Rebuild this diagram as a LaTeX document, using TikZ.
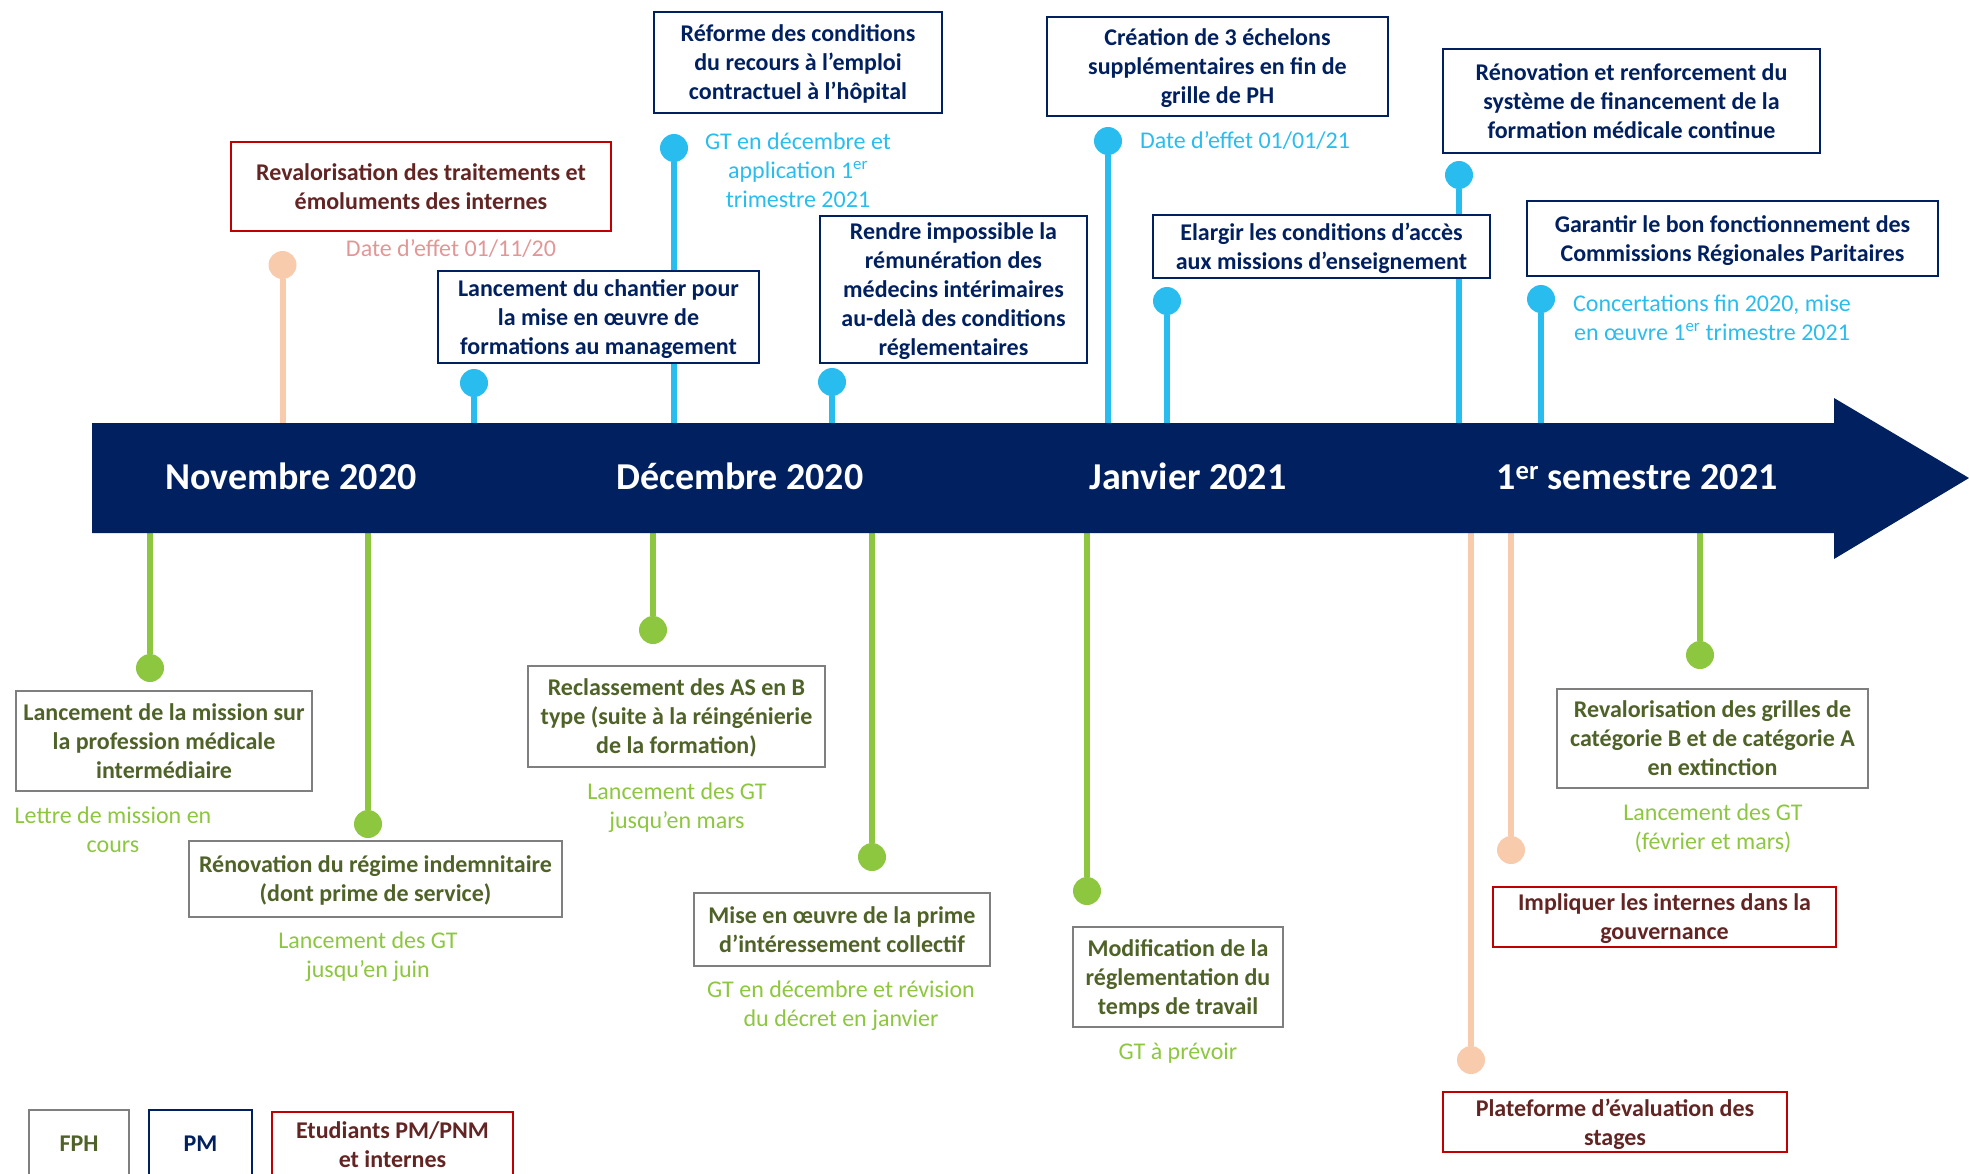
\documentclass[tikz,border=0pt]{standalone}
\usepackage{fontspec}
\setmainfont{Carlito}
\usetikzlibrary{backgrounds}
\definecolor{navy}{RGB}{0,32,96}
\definecolor{lblue}{RGB}{41,189,239}
\definecolor{lgreen}{RGB}{141,198,63}
\definecolor{peach}{RGB}{248,203,173}
\definecolor{pinktext}{RGB}{226,150,150}
\definecolor{fphtext}{RGB}{79,98,40}
\definecolor{boxgray}{RGB}{127,127,127}
\definecolor{redline}{RGB}{192,0,0}
\definecolor{maroon}{RGB}{99,37,35}
\begin{document}
\begin{tikzpicture}[x=1pt,y=-1pt,
  boxbase/.style={draw, fill=white, line width=2.5pt, align=center, inner sep=2pt,
    text depth=0pt, font=\fontsize{24}{29}\selectfont\bfseries},
  pmbox/.style={boxbase, draw=navy, text=navy},
  fphbox/.style={boxbase, draw=boxgray, text=fphtext},
  stubox/.style={boxbase, draw=redline, text=maroon},
  note/.style={align=center, inner sep=0pt, font=\fontsize{24}{29}\selectfont},
  dot/.style={circle, minimum size=28pt, inner sep=0pt},
  stem/.style={line width=6pt},
  title/.style={text=white, anchor=base, inner sep=0pt, font=\fontsize{38}{44}\selectfont\bfseries}
]
\useasboundingbox (0,0) rectangle (1969,1173);

% timeline arrow
\fill[navy] (92,423) -- (1834,423) -- (1834,398) -- (1969,478) -- (1834,559) -- (1834,533) -- (92,533) -- cycle;
\coordinate (bartop) at (0,423);
\coordinate (barbot) at (0,533);

\node[title] (t1) at (291,489) {Novembre 2020};
\node[title] (t2) at (740,489) {Décembre 2020};
\node[title] (t3) at (1188,489) {Janvier 2021};
\node[title] (t4) at (1637,489) {1\textsuperscript{er} semestre 2021};

% dots
\node[dot, fill=peach] (d1) at (282.5,265) {};
\node[dot, fill=lblue] (d2) at (474,383) {};
\node[dot, fill=lblue] (d3) at (674,148) {};
\node[dot, fill=lblue] (d4) at (832,382) {};
\node[dot, fill=lblue] (d5) at (1108,141) {};
\node[dot, fill=lblue] (d6) at (1167,301) {};
\node[dot, fill=lblue] (d7) at (1459,175) {};
\node[dot, fill=lblue] (d8) at (1541,299) {};
\node[dot, fill=lgreen] (e1) at (150,668) {};
\node[dot, fill=lgreen] (e2) at (368,824) {};
\node[dot, fill=lgreen] (e3) at (653,630) {};
\node[dot, fill=lgreen] (e4) at (872,857) {};
\node[dot, fill=lgreen] (e5) at (1087,891) {};
\node[dot, fill=peach] (e6) at (1471,1060) {};
\node[dot, fill=peach] (e7) at (1511,850) {};
\node[dot, fill=lgreen] (e8) at (1700,655) {};

% PM boxes
\node[pmbox, minimum width=288, minimum height=101] (p1) at (798,62.5) {Réforme des conditions\\du recours à l’emploi\\contractuel à l’hôpital};
\node[pmbox, minimum width=321, minimum height=92] (p2) at (598.5,317) {Lancement du chantier pour\\la mise en œuvre de\\formations au management};
\node[pmbox, minimum width=267, minimum height=147] (p3) at (953.5,289.5) {Rendre impossible la\\rémunération des\\médecins intérimaires\\au-delà des conditions\\réglementaires};
\node[pmbox, minimum width=341, minimum height=99] (p4) at (1217.5,66.5) {Création de 3 échelons\\supplémentaires en fin de\\grille de PH};
\node[pmbox, minimum width=337, minimum height=63] (p5) at (1321.5,246.5) {Elargir les conditions d’accès\\aux missions d’enseignement};
\node[pmbox, minimum width=377, minimum height=104] (p6) at (1631.5,101) {Rénovation et renforcement du\\système de financement de la\\formation médicale continue};
\node[pmbox, minimum width=411, minimum height=75] (p7) at (1732.5,238.5) {Garantir le bon fonctionnement des\\Commissions Régionales Paritaires};

% student boxes
\node[stubox, minimum width=380, minimum height=89] (s1) at (421,186.5) {Revalorisation des traitements et\\émoluments des internes};
\node[stubox, minimum width=343, minimum height=60] (s2) at (1664.5,917) {Impliquer les internes dans la\\gouvernance};
\node[stubox, minimum width=344, minimum height=60] (s3) at (1615,1122) {Plateforme d’évaluation des\\stages};

% FPH boxes
\node[fphbox, minimum width=296, minimum height=100] (f1) at (164,741) {Lancement de la mission sur\\la profession médicale\\intermédiaire};
\node[fphbox, minimum width=373, minimum height=76] (f2) at (375.5,879) {Rénovation du régime indemnitaire\\(dont prime de service)};
\node[fphbox, minimum width=297, minimum height=101] (f3) at (676.5,716.5) {Reclassement des AS en B\\type (suite à la réingénierie\\de la formation)};
\node[fphbox, minimum width=296, minimum height=73] (f4) at (842,929.5) {Mise en œuvre de la prime\\d’intéressement collectif};
\node[fphbox, minimum width=210, minimum height=100] (f5) at (1178,977) {Modification de la\\réglementation du\\temps de travail};
\node[fphbox, minimum width=311, minimum height=99] (f6) at (1712.5,738.5) {Revalorisation des grilles de\\catégorie B et de catégorie A\\en extinction};

% notes
\node[note, text=pinktext] (n1) at (451,249) {Date d’effet 01/11/20};
\node[note, text=lblue] (n2) at (798,170.5) {GT en décembre et\\application 1\textsuperscript{er}\\trimestre 2021};
\node[note, text=lblue] (n3) at (1245,141) {Date d’effet 01/01/21};
\node[note, text=lblue] (n4) at (1712,317.5) {Concertations fin 2020, mise\\en œuvre 1\textsuperscript{er} trimestre 2021};
\node[note, text=lgreen] (n5) at (113,830) {Lettre de mission en\\cours};
\node[note, text=lgreen] (n6) at (368,957) {Lancement des GT\\jusqu’en juin};
\node[note, text=lgreen] (n7) at (677,808) {Lancement des GT\\jusqu’en mars};
\node[note, text=lgreen] (n8) at (841,1006) {GT en décembre et révision\\du décret en janvier};
\node[note, text=lgreen] (n9) at (1178,1053) {GT à prévoir};
\node[note, text=lgreen] (n10) at (1713,828.5) {Lancement des GT\\(février et mars)};

% legend
\node[fphbox, minimum width=100, minimum height=68] (lfph) at (79,1144) {FPH};
\node[pmbox, minimum width=103, minimum height=68] (lpm) at (200.5,1144) {PM};
\node[stubox, minimum width=241, minimum height=66] (lstu) at (392.5,1145) {Etudiants PM/PNM\\et internes};

% stems
\begin{scope}[on background layer]
\draw[stem, peach] (d1) -- (d1 |- bartop);
\draw[stem, lblue] (d2) -- (d2 |- bartop);
\draw[stem, lblue] (d3) -- (d3 |- bartop);
\draw[stem, lblue] (d4) -- (d4 |- bartop);
\draw[stem, lblue] (d5) -- (d5 |- bartop);
\draw[stem, lblue] (d6) -- (d6 |- bartop);
\draw[stem, lblue] (d7) -- (d7 |- bartop);
\draw[stem, lblue] (d8) -- (d8 |- bartop);
\draw[stem, lgreen] (e1) -- (e1 |- barbot);
\draw[stem, lgreen] (e2) -- (e2 |- barbot);
\draw[stem, lgreen] (e3) -- (e3 |- barbot);
\draw[stem, lgreen] (e4) -- (e4 |- barbot);
\draw[stem, lgreen] (e5) -- (e5 |- barbot);
\draw[stem, peach] (e6) -- (e6 |- barbot);
\draw[stem, peach] (e7) -- (e7 |- barbot);
\draw[stem, lgreen] (e8) -- (e8 |- barbot);
\end{scope}
\end{tikzpicture}
\end{document}
